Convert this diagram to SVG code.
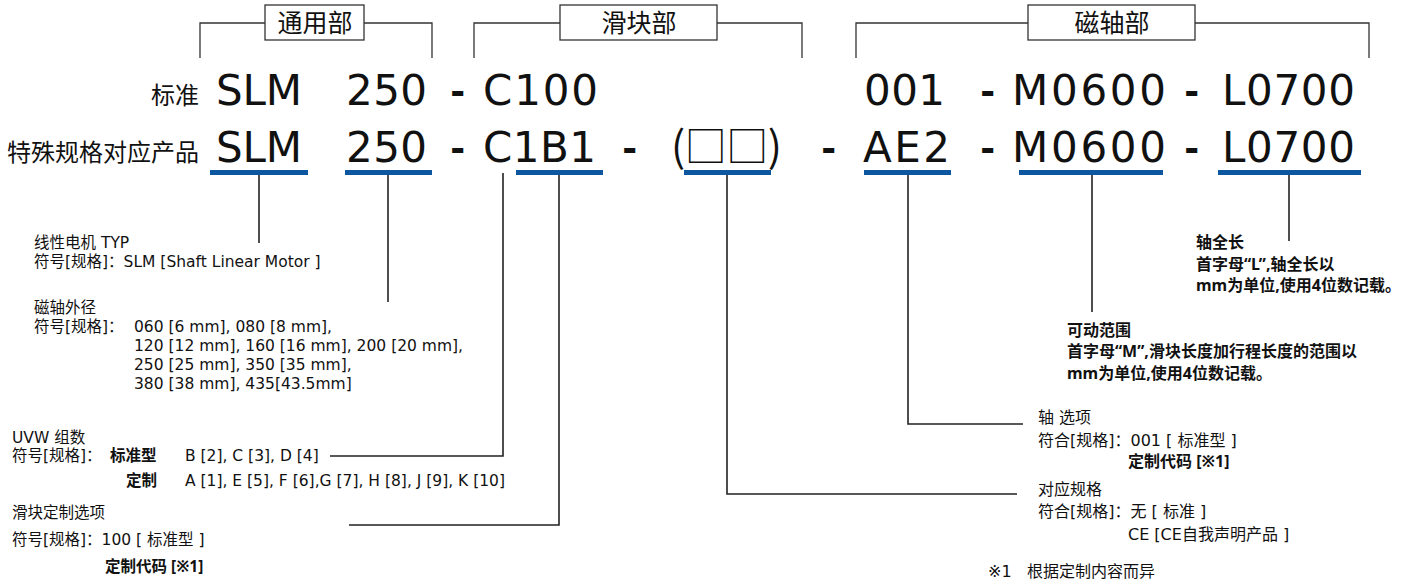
<svg xmlns="http://www.w3.org/2000/svg" width="1410" height="581" viewBox="0 0 1410 581">
<style>
text{font-family:'DejaVu Sans','Noto Sans CJK SC',sans-serif;fill:#111}
.big{font-size:42px}
.dash{font-size:42px;font-weight:bold;font-family:'Noto Sans',sans-serif}
.sq{font-size:42px;font-family:'Noto Sans CJK SC',sans-serif}
.lbl{font-size:24px;font-family:'Noto Sans CJK SC',sans-serif}
.hd{font-size:25px;text-anchor:middle;font-family:'Noto Sans CJK SC',sans-serif}
.s{font-size:15.5px}
.sb{font-size:15.5px;font-weight:bold;font-family:'Noto Sans','Noto Sans CJK SC',sans-serif}
.m{font-size:16px}
.mb{font-size:16px;font-weight:bold;font-family:'Noto Sans','Noto Sans CJK SC',sans-serif}
.r{font-size:16px;font-weight:bold;font-family:'Noto Sans','Noto Sans CJK SC',sans-serif}
.br{fill:none;stroke:#333;stroke-width:1.3}
.box{fill:#fff;stroke:#333;stroke-width:1.3}
.ul{fill:#0d57a0}
.cn{fill:none;stroke:#222;stroke-width:1.6}
</style>

<g id="hdr-common">
<path class="br" d="M200,58V23H265M364,23H432V58"/>
<rect class="box" x="265" y="5" width="99" height="35"/>
<text class="hd" x="315" y="32">通用部</text>
</g>
<g id="hdr-slider">
<path class="br" d="M474,58V23H560M717,23H802V58"/>
<rect class="box" x="560" y="5" width="157" height="35"/>
<text class="hd" x="639" y="32">滑块部</text>
</g>
<g id="hdr-shaft">
<path class="br" d="M856,58V23H1028M1195,23H1369V58"/>
<rect class="box" x="1028" y="5" width="167" height="35"/>
<text class="hd" x="1112" y="32">磁轴部</text>
</g>

<g id="row-standard">
<text class="lbl" x="199" y="104" text-anchor="end">标准</text>
<text class="big" x="216" y="105" textLength="86">SLM</text>
<text class="big" x="346" y="105" textLength="81">250</text>
<text class="dash" x="451" y="105">-</text>
<text class="big" x="483" y="105" textLength="115">C100</text>
<text class="big" x="864" y="105" textLength="81">001</text>
<text class="dash" x="981" y="105">-</text>
<text class="big" x="1012" y="105" textLength="154">M0600</text>
<text class="dash" x="1185" y="105">-</text>
<text class="big" x="1222" y="105" textLength="133">L0700</text>
</g>

<g id="row-special">
<text class="lbl" x="199" y="161" text-anchor="end">特殊规格对应产品</text>
<text class="big" x="216" y="162" textLength="86">SLM</text>
<text class="big" x="346" y="162" textLength="81">250</text>
<text class="dash" x="451" y="162">-</text>
<text class="big" x="483" y="162" textLength="113">C1B1</text>
<text class="dash" x="623" y="162">-</text>
<text class="sq" x="671" y="162" textLength="111">(□□)</text>
<text class="dash" x="822" y="162">-</text>
<text class="big" x="863" y="162" textLength="87">AE2</text>
<text class="dash" x="981" y="162">-</text>
<text class="big" x="1012" y="162" textLength="154">M0600</text>
<text class="dash" x="1185" y="162">-</text>
<text class="big" x="1222" y="162" textLength="133">L0700</text>
</g>

<g id="underlines">
<rect class="ul" x="210" y="170" width="98" height="5"/>
<rect class="ul" x="345" y="170" width="87" height="5"/>
<rect class="ul" x="516" y="170" width="87" height="5"/>
<rect class="ul" x="684" y="170" width="87" height="5"/>
<rect class="ul" x="864" y="170" width="87" height="5"/>
<rect class="ul" x="1019" y="170" width="144" height="5"/>
<rect class="ul" x="1218" y="170" width="143" height="5"/>
</g>

<g id="connectors">
<path class="cn" d="M259,175V243"/>
<path class="cn" d="M388,175V302"/>
<path class="cn" d="M503,173V456H330"/>
<path class="cn" d="M559,175V525H349"/>
<path class="cn" d="M727,175V494H1017"/>
<path class="cn" d="M908,175V424H1023"/>
<path class="cn" d="M1092,175V312"/>
<path class="cn" d="M1289,175V241"/>
</g>

<g id="desc-type">
<text class="s" x="34" y="248">线性电机 TYP</text>
<text class="s" x="34" y="267">符号[规格]：SLM [Shaft Linear Motor ]</text>
</g>
<g id="desc-diameter">
<text class="s" x="34" y="313">磁轴外径</text>
<text class="s" x="34" y="332">符号[规格]：</text>
<text class="s" x="134" y="332">060 [6 mm], 080 [8 mm],</text>
<text class="s" x="134" y="351">120 [12 mm], 160 [16 mm], 200 [20 mm],</text>
<text class="s" x="134" y="370">250 [25 mm], 350 [35 mm],</text>
<text class="s" x="134" y="389">380 [38 mm], 435[43.5mm]</text>
</g>
<g id="desc-uvw">
<text class="s" x="12" y="443">UVW 组数</text>
<text class="s" x="12" y="461">符号[规格]：</text>
<text class="sb" x="110" y="461">标准型</text>
<text class="s" x="185" y="461">B [2], C [3], D [4]</text>
<text class="sb" x="126" y="486">定制</text>
<text class="s" x="185" y="486">A [1], E [5], F [6],G [7], H [8], J [9], K [10]</text>
</g>
<g id="desc-slider">
<text class="s" x="12" y="518">滑块定制选项</text>
<text class="s" x="12" y="545">符号[规格]：100 [ 标准型 ]</text>
<text class="sb" x="105" y="572">定制代码 [※1]</text>
</g>
<g id="desc-length">
<text class="r" x="1196" y="248">轴全长</text>
<text class="r" x="1196" y="270">首字母“L”,轴全长以</text>
<text class="r" x="1196" y="291">mm为单位,使用4位数记载。</text>
</g>
<g id="desc-range">
<text class="r" x="1067" y="336">可动范围</text>
<text class="r" x="1067" y="357">首字母“M”,滑块长度加行程长度的范围以</text>
<text class="r" x="1067" y="379">mm为单位,使用4位数记载。</text>
</g>
<g id="desc-shaft">
<text class="m" x="1038" y="423">轴 选项</text>
<text class="m" x="1038" y="446">符合[规格]：001 [ 标准型 ]</text>
<text class="mb" x="1128" y="467">定制代码 [※1]</text>
</g>
<g id="desc-standard">
<text class="m" x="1038" y="495">对应规格</text>
<text class="m" x="1038" y="517">符合[规格]：无 [ 标准 ]</text>
<text class="m" x="1128" y="540">CE [CE自我声明产品 ]</text>
</g>
<g id="note">
<text class="m" x="988" y="577">※1</text>
<text class="m" x="1027" y="577">根据定制内容而异</text>
</g>
</svg>
